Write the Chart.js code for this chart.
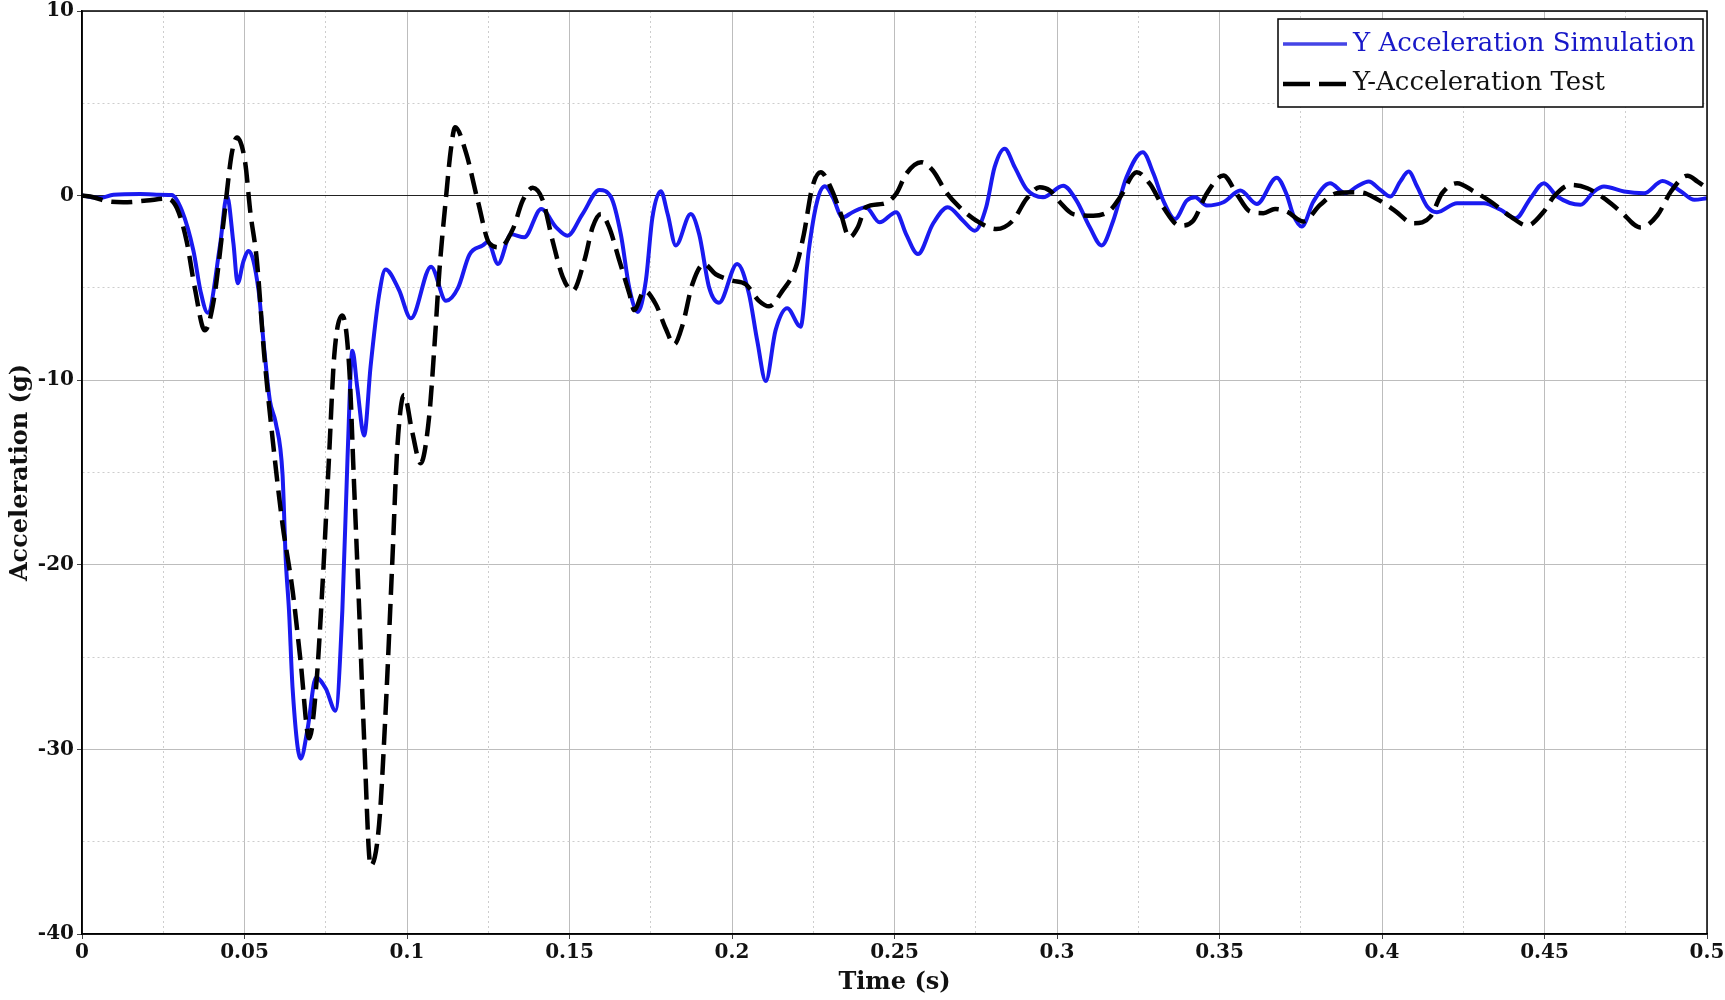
<!DOCTYPE html>
<html><head><meta charset="utf-8">
<script src="https://cdn.jsdelivr.net/npm/chart.js@4.4.1/dist/chart.umd.min.js"></script>
<style>html,body{margin:0;padding:0;background:#fff;}canvas{display:block;}</style>
</head><body>
<canvas id="c" width="1725" height="1000"></canvas>
<script>
const seriesNames = ['Y Acceleration Simulation', 'Y-Acceleration Test'];
const xTickLabels = ['0','0.05','0.1','0.15','0.2','0.25','0.3','0.35','0.4','0.45','0.5'];
const yTickLabels = ['10','0','-10','-20','-30','-40'];
const xTitle = 'Time (s)';
const yTitle = 'Acceleration (g)';

const simTime = [0,0.0055,0.0097,0.0179,0.023,0.0276,0.0307,0.0343,0.0365,0.0387,0.0425,0.0446,0.0466,0.0479,0.0496,0.0513,0.0543,0.056,0.0578,0.0596,0.0617,0.0627,0.0637,0.0648,0.0673,0.0694,0.072,0.075,0.078,0.0801,0.0817,0.0832,0.0847,0.0868,0.0888,0.0914,0.0934,0.0975,0.1012,0.1074,0.112,0.1157,0.1192,0.1233,0.1249,0.128,0.132,0.1361,0.1413,0.1459,0.1494,0.154,0.1592,0.1628,0.1658,0.1684,0.171,0.1735,0.1755,0.1781,0.1802,0.1827,0.1873,0.1899,0.193,0.196,0.2016,0.2052,0.2078,0.2104,0.2134,0.217,0.2211,0.2236,0.2262,0.2286,0.231,0.234,0.2371,0.2412,0.2454,0.2505,0.2536,0.2572,0.2618,0.2664,0.2711,0.2747,0.2782,0.2808,0.2839,0.287,0.2906,0.2957,0.3019,0.306,0.3101,0.3137,0.3173,0.3214,0.3264,0.3297,0.3327,0.3363,0.3399,0.3425,0.3461,0.3512,0.3564,0.3615,0.3676,0.3707,0.3727,0.3753,0.3789,0.384,0.3887,0.3923,0.3959,0.3995,0.4026,0.4056,0.4082,0.4108,0.4139,0.4169,0.4231,0.4313,0.4365,0.4411,0.4457,0.4498,0.4539,0.4611,0.4652,0.4683,0.4745,0.4807,0.4863,0.492,0.4961,0.5];
const simAccel = [0,-0.13,0.05,0.09,0.05,0.03,-0.8,-3.0,-5.2,-6.35,-2.65,0,-2.6,-4.75,-3.6,-3.0,-5.1,-8.2,-11.1,-12.3,-15.1,-19.75,-22.5,-26.7,-30.5,-28.9,-26.1,-26.7,-27.9,-22.5,-14.2,-8.4,-10.4,-13.0,-9.25,-5.4,-4.0,-5.1,-6.65,-3.85,-5.7,-5.0,-3.2,-2.7,-2.5,-3.7,-2.1,-2.26,-0.72,-1.72,-2.17,-1.0,0.3,-0.09,-2.1,-5.0,-6.3,-4.6,-1.2,0.24,-1.0,-2.7,-1.0,-2.1,-5.0,-5.8,-3.7,-5.3,-7.9,-10.05,-7.3,-6.1,-7.1,-3.0,-0.3,0.5,-0.09,-1.18,-0.9,-0.63,-1.45,-0.9,-2.1,-3.17,-1.54,-0.63,-1.36,-1.9,-0.63,1.54,2.54,1.54,0.36,-0.09,0.54,-0.27,-1.72,-2.7,-1.36,1.0,2.35,1.18,-0.27,-1.27,-0.27,-0.09,-0.54,-0.36,0.27,-0.45,0.97,0.04,-1.05,-1.68,-0.32,0.67,0.13,0.49,0.76,0.31,-0.05,0.76,1.3,0.49,-0.59,-0.9,-0.41,-0.41,-0.77,-1.23,-0.14,0.67,-0.05,-0.5,0.22,0.49,0.22,0.13,0.79,0.22,-0.23,-0.14];

const testTime = [0,0.0035,0.0076,0.0127,0.0199,0.0261,0.0292,0.0322,0.0347,0.0378,0.0405,0.0435,0.0461,0.0477,0.0502,0.0518,0.0538,0.056,0.0586,0.0617,0.0648,0.0673,0.0699,0.072,0.074,0.076,0.0776,0.0801,0.0822,0.0837,0.0853,0.0868,0.0888,0.0914,0.0934,0.0955,0.097,0.0991,0.1016,0.1042,0.1068,0.1085,0.11,0.112,0.1135,0.1148,0.1182,0.1218,0.1254,0.1285,0.1326,0.1356,0.1387,0.1418,0.1448,0.1479,0.151,0.1546,0.1571,0.1597,0.1622,0.1653,0.1684,0.1699,0.173,0.1766,0.1796,0.1822,0.1848,0.1878,0.1914,0.195,0.2,0.2042,0.2083,0.2114,0.2155,0.2196,0.2221,0.2247,0.2273,0.2308,0.2335,0.2361,0.2387,0.2412,0.2464,0.2505,0.2536,0.2582,0.2618,0.2659,0.27,0.2752,0.2813,0.2864,0.2906,0.2947,0.2978,0.3009,0.305,0.3112,0.3163,0.3194,0.3245,0.3286,0.3327,0.3378,0.3419,0.346,0.3512,0.3553,0.3594,0.3635,0.3671,0.3707,0.3758,0.381,0.3861,0.3933,0.3984,0.4036,0.4097,0.4149,0.4185,0.4231,0.4283,0.4334,0.4396,0.4447,0.4498,0.4529,0.458,0.4632,0.4683,0.4734,0.4796,0.4848,0.4889,0.494,0.4971,0.5];
const testAccel = [0,-0.09,-0.3,-0.36,-0.27,-0.16,-0.67,-2.47,-5.0,-7.3,-5.7,-1.5,2.3,3.15,1.8,-0.9,-3.5,-8.5,-13.1,-17.8,-21.4,-25.3,-29.4,-26.7,-21.1,-14.2,-8.7,-6.5,-9.25,-15.6,-22.5,-29.4,-36.3,-34.1,-28,-19.75,-13.7,-10.8,-12.8,-14.5,-12.0,-8,-4,-0.1,2.5,3.7,2.3,-0.3,-2.6,-2.8,-1.8,-0.27,0.42,-0.27,-2.45,-4.4,-5.16,-3.5,-1.72,-1.0,-1.72,-3.5,-5.3,-6.2,-5.16,-5.9,-7.2,-8.06,-7.0,-4.8,-3.7,-4.26,-4.6,-4.8,-5.7,-6.0,-5.16,-3.9,-2.1,0.45,1.27,0.27,-1.0,-2.26,-1.72,-0.63,-0.45,0.09,1.18,1.81,1.36,0.18,-0.63,-1.36,-1.81,-1.36,-0.18,0.45,0.27,-0.36,-1.0,-1.09,-0.8,-0.09,1.27,0.63,-0.63,-1.63,-1.36,0.09,1.09,0.09,-0.86,-0.95,-0.72,-0.86,-1.4,-0.5,0.13,0.18,-0.18,-0.77,-1.5,-1.14,0.13,0.67,0.22,-0.32,-1.14,-1.62,-0.86,-0.05,0.58,0.4,-0.14,-0.86,-1.73,-1.05,0.22,1.08,0.76,0.4];

const pairs = (xs, ys) => xs.map((x, i) => ({x: x, y: ys[i]}));
const FONT = '"DejaVu Serif", "Liberation Serif", serif';
const xMajor = v => Math.abs(v / 0.05 - Math.round(v / 0.05)) < 1e-6;
const yMajor = v => Math.abs(v / 10 - Math.round(v / 10)) < 1e-6;
const findLabel = (arr, v) => { const s = arr.find(l => Math.abs(parseFloat(l) - v) < 1e-6); return s === undefined ? '' : s; };

const overlay = {
  id: 'overlay',
  afterDraw(chart) {
    const {ctx, chartArea: a} = chart;
    ctx.save();
    ctx.strokeStyle = '#000';
    ctx.lineWidth = 1.5;
    ctx.setLineDash([]);
    ctx.strokeRect(a.left, a.top, a.right - a.left, a.bottom - a.top);
    // legend
    const bx = a.right - 429, by = a.top + 8, bw = 425, bh = 88;
    ctx.fillStyle = '#fff';
    ctx.fillRect(bx, by, bw, bh);
    ctx.strokeRect(bx, by, bw, bh);
    const rows = [
      {y: by + 25, color: '#4545e6', text: '#1818c8', dash: [], w: 3.5},
      {y: by + 64, color: '#000', text: '#111', dash: [27, 9], w: 4.5}
    ];
    ctx.font = '26px ' + FONT;
    ctx.textBaseline = 'middle';
    ctx.textAlign = 'left';
    rows.forEach((r, i) => {
      ctx.beginPath();
      ctx.setLineDash(r.dash);
      ctx.lineCap = 'butt';
      ctx.strokeStyle = r.color;
      ctx.lineWidth = r.w;
      ctx.moveTo(bx + 5, r.y + (i ? 1 : 0));
      ctx.lineTo(bx + 69, r.y + (i ? 1 : 0));
      ctx.stroke();
      ctx.setLineDash([]);
      ctx.fillStyle = r.text;
      ctx.fillText(chart.data.datasets[i].label, bx + 75, r.y);
    });
    ctx.restore();
  }
};

new Chart(document.getElementById('c'), {
  type: 'line',
  data: {
    datasets: [
      {label: seriesNames[0], data: pairs(simTime, simAccel), borderColor: '#1a1af0', borderWidth: 4,
       pointRadius: 0, cubicInterpolationMode: 'monotone', fill: false, order: 2},
      {label: seriesNames[1], data: pairs(testTime, testAccel), borderColor: '#000', borderWidth: 4.5,
       borderDash: [21, 9], pointRadius: 0, cubicInterpolationMode: 'monotone', fill: false, order: 1}
    ]
  },
  options: {
    responsive: false,
    animation: false,
    layout: {padding: {top: 11, right: 18, left: 0, bottom: 0}},
    plugins: {legend: {display: false}, tooltip: {enabled: false}},
    scales: {
      x: {
        type: 'linear', min: 0, max: 0.5,
        afterFit: s => { s.height = 66; s.paddingLeft = 0; s.paddingRight = 0; },
        ticks: {stepSize: 0.025, autoSkip: false, maxRotation: 0, padding: 4,
          color: '#111', font: {family: FONT, weight: 'bold', size: 20, lineHeight: 1},
          callback: v => xMajor(v) ? findLabel(xTickLabels, v) : ''},
        grid: {
          color: c => (c.tick && xMajor(c.tick.value)) ? '#bdbdbd' : '#cdcdcd',
          lineWidth: 1, tickLength: 5,
          tickColor: c => (c.tick && xMajor(c.tick.value)) ? '#444' : 'rgba(0,0,0,0)'
        },
        border: {display: true, color: '#000', width: 1.5,
          dash: c => (c.tick && !xMajor(c.tick.value)) ? [2, 3] : []},
        title: {display: true, text: xTitle, color: '#111', padding: {top: 0, bottom: 3},
          font: {family: FONT, weight: 'bold', size: 24}}
      },
      y: {
        type: 'linear', min: -40, max: 10,
        afterFit: s => { s.width = 82; s.paddingTop = 0; s.paddingBottom = 0; },
        ticks: {stepSize: 5, autoSkip: false, padding: 3,
          color: '#111', font: {family: FONT, weight: 'bold', size: 20, lineHeight: 1},
          callback: v => yMajor(v) ? findLabel(yTickLabels, v) : ''},
        grid: {
          color: c => {
            if (!c.tick) return '#bdbdbd';
            if (Math.abs(c.tick.value) < 1e-6) return '#222';
            return yMajor(c.tick.value) ? '#bdbdbd' : '#cdcdcd';
          },
          lineWidth: 1, tickLength: 5,
          tickColor: c => (c.tick && yMajor(c.tick.value)) ? '#444' : 'rgba(0,0,0,0)'
        },
        border: {display: true, color: '#000', width: 1.5,
          dash: c => (c.tick && !yMajor(c.tick.value)) ? [2, 3] : []},
        title: {display: true, text: yTitle, color: '#111', padding: {top: 6, bottom: 0},
          font: {family: FONT, weight: 'bold', size: 24}}
      }
    }
  },
  plugins: [overlay]
});
</script>
</body></html>
